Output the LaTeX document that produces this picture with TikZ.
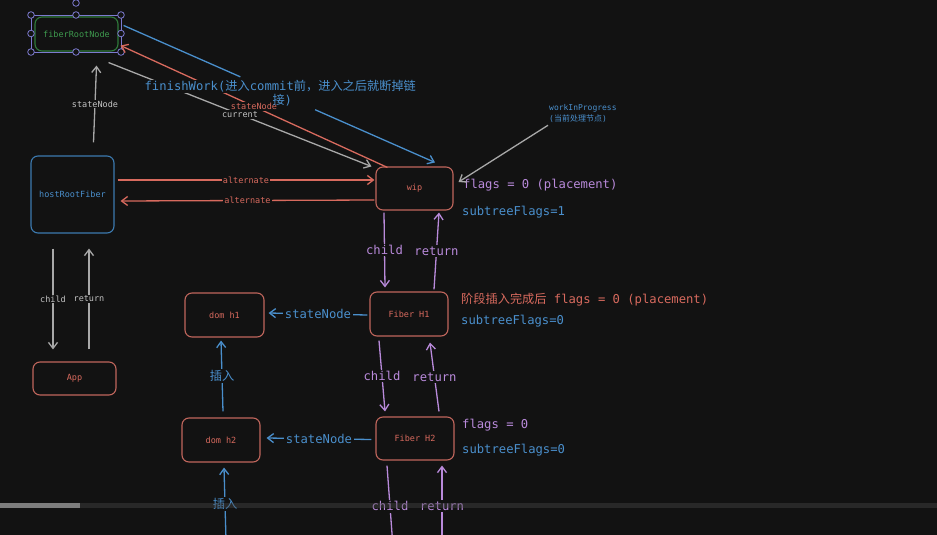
\documentclass[tikz,border=0pt]{standalone}
\usepackage{fontspec}
\setmonofont{DejaVu Sans Mono}
\newfontfamily\cjk{Noto Sans CJK SC}
\usepackage{xcolor}
\usepackage{tikz}
\usetikzlibrary{arrows.meta,calc}
\definecolor{bg}{HTML}{121212}
\definecolor{leaf}{HTML}{3E9A4E}
\definecolor{leafline}{HTML}{2F7A3B}
\definecolor{handle}{HTML}{7C7ACF}
\definecolor{sky}{HTML}{4A8FCC}
\definecolor{skyline}{HTML}{3C7AB0}
\definecolor{coral}{HTML}{D86A5E}
\definecolor{coralline}{HTML}{C0665C}
\definecolor{lilac}{HTML}{B98ADB}
\definecolor{ash}{HTML}{A8A8A8}
\definecolor{ashtext}{HTML}{C4C4C4}
\definecolor{barlight}{HTML}{8C8C8C}
\definecolor{bardark}{HTML}{4A4A4A}
\newcommand\bigtxt{\fontsize{12.2}{14}\selectfont\ttfamily}
\newcommand\smalltxt{\fontsize{8.5}{10.5}\selectfont\ttfamily}

\begin{document}
\begin{tikzpicture}[x=1pt,y=-1pt,>={Straight Barb[length=6pt,width=9pt]},
  box/.style={draw,rounded corners=7pt,line width=1.1pt,inner sep=0pt,font=\smalltxt},
  lbl/.style={fill=bg,inner sep=1.5pt,font=\bigtxt},
  tag/.style={fill=bg,inner sep=1pt,font=\smalltxt},
  note/.style={anchor=west,inner sep=0pt,font=\bigtxt},
  link/.style={->,line width=1.3pt}]
\useasboundingbox (0,0) rectangle (937,535);
\fill[bg] (0,0) rectangle (937,535);

% boxes
\node[box,draw=leafline,text=leaf,minimum width=83pt,minimum height=34pt] (root) at (76.5,34) {fiberRootNode};
\node[box,draw=skyline,text=sky,minimum width=83pt,minimum height=77pt] (hrf) at (72.5,194.5) {hostRootFiber};
\node[box,draw=coralline,text=coral,minimum width=83pt,minimum height=33pt] (app) at (74.5,378.5) {App};
\node[box,draw=coralline,text=coral,minimum width=77pt,minimum height=43pt] (wip) at (414.5,188.5) {wip};
\node[box,draw=coralline,text=coral,minimum width=78pt,minimum height=44pt] (fh1) at (409,314) {Fiber H1};
\node[box,draw=coralline,text=coral,minimum width=78pt,minimum height=43pt] (fh2) at (415,438.5) {Fiber H2};
\node[box,draw=coralline,text=coral,minimum width=79pt,minimum height=44pt] (dh1) at (224.5,315) {dom h1};
\node[box,draw=coralline,text=coral,minimum width=78pt,minimum height=44pt] (dh2) at (221,440) {dom h2};

% selection frame
\draw[handle,line width=0.8pt] (31,15) rectangle (121,52);
\foreach \hx/\hy in {31/15,76/15,121/15,31/33.5,121/33.5,31/52,76/52,121/52,76/3}
  \draw[handle,line width=0.8pt,fill=bg] (\hx,\hy) circle (3.3pt);

% notes
\node[note,text=lilac] (flg1) at (463,185) {flags = 0 (placement)};
\node[note,text=sky] (sub1) at (462,212) {subtreeFlags=1};
\node[note,text=coral] (flg2) at (461,300) {{\cjk 阶段插入完成后} flags = 0 (placement)};
\node[note,text=sky] (sub2) at (461,321) {subtreeFlags=0};
\node[note,text=lilac] (flg3) at (462,425) {flags = 0};
\node[note,text=sky] (sub3) at (462,450) {subtreeFlags=0};
\node[anchor=west,align=left,inner sep=0pt,text=sky,font=\fontsize{8}{11}\selectfont\ttfamily] (wiplbl) at (549,113)
  {workInProgress\\({\cjk 当前处理节点})};

% hostRootFiber links
\draw[link,ash] ($(hrf.north)+(21,-13)$) -- node[tag,text=ashtext]{stateNode} ($(root.south)+(20,14)$);
\draw[link,ash] ($(hrf.south)+(-19.5,15)$) -- node[tag,text=ashtext]{child} ($(app.north)+(-21.5,-12)$);
\draw[link,ash] ($(app.north)+(14.5,-12)$) -- node[tag,text=ashtext]{return} ($(hrf.south)+(16.5,15)$);
\draw[link,coral] ($(hrf.east)+(3,-14.5)$) -- node[tag]{alternate} ($(wip.west)+(-1,-8.5)$);
\draw[link,coral] ($(wip.west)+(-1,11.5)$) -- node[tag]{alternate} ($(hrf.east)+(6,6.5)$);

% root <-> wip
\coordinate (fwa) at ($(root.north east)+(5,9)$);
\coordinate (fwb) at ($(wip.north)+(20.5,-4)$);
\draw[sky,line width=1.3pt] (fwa) -- ($(fwa)!0.375!(fwb)$);
\draw[link,sky] ($(fwa)!0.615!(fwb)$) -- (fwb);
\draw[link,ash] ($(root.south east)+(-10,11)$) -- node[tag,text=ashtext]{current} ($(wip.north west)+(-4,0)$);
\draw[link,coral] ($(wip.north west)+(12,1)$) -- node[tag]{stateNode} ($(root.south east)+(2,-6)$);
\node[lbl,inner sep=0.5pt,text=sky] (fw1) at ($(fwa)!0.5!(fwb)+(1,-7.5)$)
  {finishWork({\cjk 进入}commit{\cjk 前，进入之后就断掉链}};
\node[inner sep=0pt,font=\bigtxt,text=sky] (fw2) at ($(fwa)!0.5!(fwb)+(3,6.5)$) {{\cjk 接})};
\draw[link,ash] ($(wiplbl.south west)+(-1,3)$) -- ($(wip.east)+(5,-6.5)$);

% fiber tree
\draw[link,lilac] ($(wip.south)+(-30.5,2)$) -- node[lbl]{child} ($(fh1.north)+(-24,-4)$);
\draw[link,lilac] ($(fh1.north)+(25,-2)$) -- node[lbl]{return} ($(wip.south)+(24.5,2)$);
\draw[link,sky] ($(fh1.west)+(-2,1)$) -- node[lbl]{stateNode} ($(dh1.east)+(4,-2)$);
\draw[link,lilac] ($(fh1.south)+(-30,4)$) -- node[lbl]{child} ($(fh2.north)+(-30,-5)$);
\draw[link,lilac] ($(fh2.north)+(24,-5)$) -- node[lbl]{return} ($(fh1.south)+(21,6)$);
\draw[link,sky] ($(fh2.west)+(-4,1)$) -- node[lbl]{stateNode} ($(dh2.east)+(6,-2)$);
\draw[link,sky] ($(dh2.north)+(2,-6)$) -- node[lbl,font=\bigtxt\cjk]{插入} ($(dh1.south)+(-3.5,3)$);

% off the bottom edge
\coordinate (dh3) at (226,540);
\coordinate (fc) at (393,547);
\coordinate (fr) at (442,547);
\draw[link,sky] (dh3) -- node[lbl,font=\bigtxt\cjk]{插入} ($(dh2.south)+(3,5)$);
\draw[link,lilac] ($(fh2.south)+(-28,5)$) -- node[lbl]{child} (fc);
\draw[link,lilac] (fr) -- node[lbl]{return} ($(fh2.south)+(27,5)$);

% player bar
\fill[bardark,opacity=0.4] (0,503) rectangle (937,508);
\fill[barlight,opacity=0.85] (0,503) rectangle (80,508);
\end{tikzpicture}
\end{document}
